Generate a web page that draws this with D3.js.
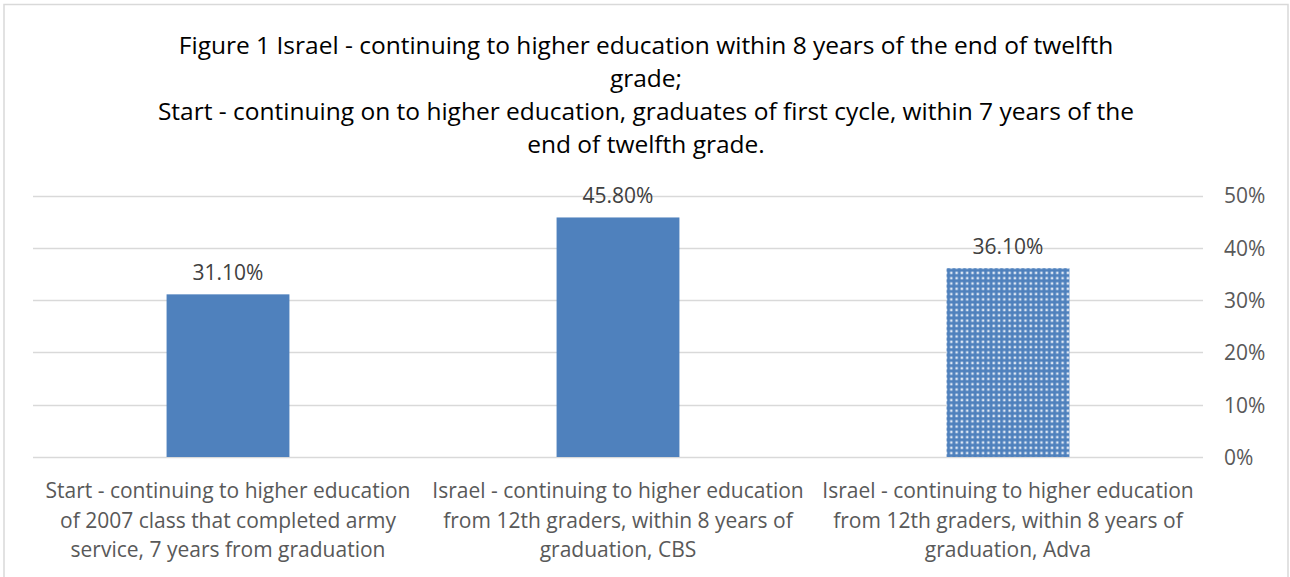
<!DOCTYPE html>
<html><head><meta charset="utf-8">
<script src="https://cdn.jsdelivr.net/npm/d3@7"></script>
<style>body{margin:0;background:#fff}svg{display:block}</style>
</head><body>
<svg id="c" width="1290" height="577"></svg>
<script>
const titleLines = [
  "Figure 1 Israel - continuing to higher education within 8 years of the end of twelfth",
  "grade;",
  "Start - continuing on to higher education, graduates of first cycle, within 7 years of the",
  "end of twelfth grade."
];
const categories = [
  ["Start - continuing to higher education", "of 2007 class that completed army", "service, 7 years from graduation"],
  ["Israel - continuing to higher education", "from 12th graders, within 8 years of", "graduation, CBS"],
  ["Israel - continuing to higher education", "from 12th graders, within 8 years of", "graduation, Adva"]
];
const values = [0.311, 0.458, 0.361];
const valueLabels = ["31.10%", "45.80%", "36.10%"];
const patterned = [false, false, true];
const yTicks = [0, 0.1, 0.2, 0.3, 0.4, 0.5];

(function () {
const svg = d3.select("#c");
const font = "'Open Sans', sans-serif";

svg.append("rect").attr("x", 4).attr("y", 4.5).attr("width", 1284).attr("height", 580)
  .attr("fill", "#fff").attr("stroke", "#d9d9d9").attr("stroke-width", 1.5);

const defs = svg.append("defs");
const pat = defs.append("pattern").attr("id", "dots").attr("patternUnits", "userSpaceOnUse")
  .attr("width", 5.3).attr("height", 5.3);
pat.append("rect").attr("width", 5.3).attr("height", 5.3).attr("fill", "#4f81bd");
pat.append("rect").attr("x", 1.4).attr("y", 1.4).attr("width", 2.4).attr("height", 2.4).attr("fill", "#dfe8f4");

const pLeft = 33, pRight = 1203, pTop = 195.5, pBottom = 457;
const x = d3.scaleBand().domain(d3.range(categories.length)).range([pLeft, pRight]).paddingInner(0.685).paddingOuter(0.3425);
const y = d3.scaleLinear().domain([0, 0.5]).range([pBottom, pTop]);

svg.append("g").selectAll("line").data(yTicks).join("line")
  .attr("x1", pLeft).attr("x2", pRight)
  .attr("y1", d => Math.round(y(d)) + 0.5).attr("y2", d => Math.round(y(d)) + 0.5)
  .attr("stroke", "#d9d9d9").attr("stroke-width", 1.3);

const yAxis = d3.axisRight(y).tickValues(yTicks).tickFormat(d3.format(".0%")).tickSize(0).tickPadding(0);
const ga = svg.append("g").attr("transform", `translate(${pRight + 21},0)`).call(yAxis);
ga.select(".domain").remove();
ga.selectAll("text").attr("font-family", font).attr("font-size", 21).attr("fill", "#595959").attr("dy", "0.35em");

svg.append("g").selectAll("rect").data(values).join("rect")
  .attr("x", (d, i) => x(i)).attr("width", x.bandwidth())
  .attr("y", d => y(d)).attr("height", d => pBottom - y(d))
  .attr("fill", (d, i) => patterned[i] ? "url(#dots)" : "#4f81bd");

svg.append("g").selectAll("text").data(values).join("text")
  .attr("x", (d, i) => x(i) + x.bandwidth() / 2).attr("y", d => y(d) - 22)
  .attr("dy", "0.35em").attr("text-anchor", "middle")
  .attr("font-family", font).attr("font-size", 21).attr("fill", "#404040")
  .text((d, i) => valueLabels[i]);

const cg = svg.append("g").selectAll("text").data(categories).join("text")
  .attr("text-anchor", "middle").attr("font-family", font).attr("font-size", 21).attr("fill", "#595959");
cg.selectAll("tspan").data((d, i) => d.map(t => ({t, i}))).join("tspan")
  .attr("x", d => x(d.i) + x.bandwidth() / 2)
  .attr("y", (d, j) => 491 + j * 29.5).attr("dy", "0.35em")
  .text(d => d.t);

svg.append("text").attr("text-anchor", "middle").attr("font-family", font).attr("font-size", 24.5).attr("fill", "#000")
  .selectAll("tspan").data(titleLines).join("tspan")
  .attr("x", 646).attr("y", (d, i) => 45 + i * 33).attr("dy", "0.35em").text(d => d);
})();
</script>
</body></html>
